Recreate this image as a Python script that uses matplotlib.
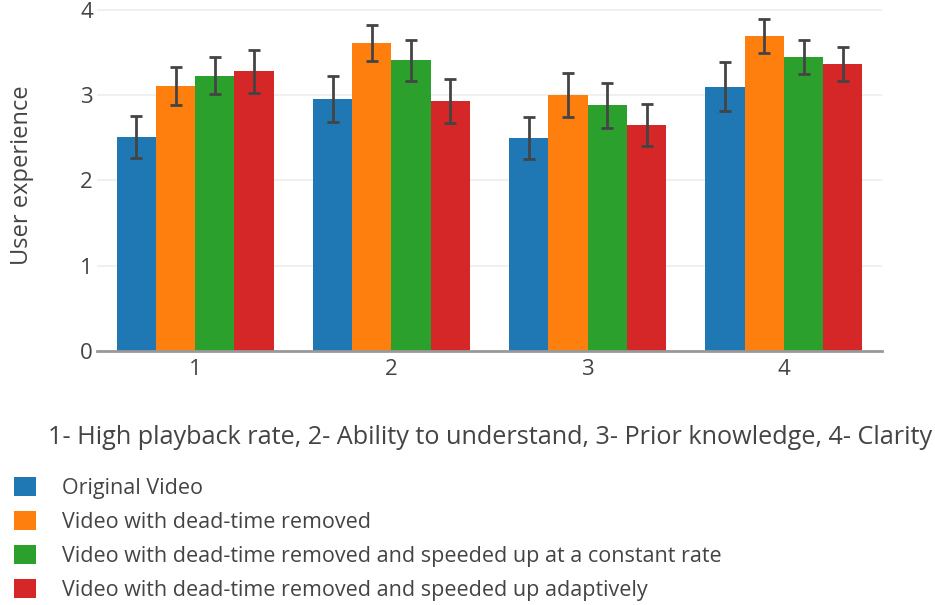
import numpy as np
import matplotlib
matplotlib.use("Agg")
import matplotlib.pyplot as plt
from matplotlib.patches import Patch

plt.rcParams['font.family'] = ['Open Sans', 'DejaVu Sans']

categories = ["1", "2", "3", "4"]
series_names = [
    "Original Video",
    "Video with dead-time removed",
    "Video with dead-time removed and speeded up at a constant rate",
    "Video with dead-time removed and speeded up adaptively",
]
colors = ["#1f77b4", "#ff7f0e", "#2ca02c", "#d62728"]

original = [2.51, 2.96, 2.50, 3.10]
deadtime_removed = [3.11, 3.61, 3.00, 3.69]
constant_rate = [3.23, 3.41, 2.88, 3.45]
adaptive = [3.28, 2.93, 2.65, 3.37]

original_err = [0.25, 0.27, 0.25, 0.29]
deadtime_err = [0.22, 0.21, 0.26, 0.20]
constant_err = [0.22, 0.24, 0.26, 0.20]
adaptive_err = [0.25, 0.26, 0.25, 0.20]

values = [original, deadtime_removed, constant_rate, adaptive]
errors = [original_err, deadtime_err, constant_err, adaptive_err]

text_col = "#444444"

fig = plt.figure(figsize=(9.35, 6.05), dpi=100)
ax = fig.add_axes([97 / 935, 1 - 351 / 605, 785 / 935, 351 / 605])

x = np.arange(len(categories))
width = 0.2
for i, (vals, errs) in enumerate(zip(values, errors)):
    ax.bar(x + (i - 1.5) * width, vals, width, color=colors[i], zorder=2,
           yerr=errs, error_kw=dict(ecolor=text_col, elinewidth=2,
                                    capsize=4.5, capthick=2, zorder=3))

ax.set_xlim(-0.5, 3.5)
ax.set_ylim(0, 4.117)
ax.set_yticks([0, 1, 2, 3, 4])
ax.set_xticks(x)
ax.set_xticklabels(categories)
ax.grid(axis='y', color="#eeeeee", linewidth=1.2, zorder=0)
ax.tick_params(length=0, labelsize=16, colors=text_col)
ax.tick_params(axis='y', pad=3)
ax.tick_params(axis='x', pad=6)
for s in ["top", "right", "left"]:
    ax.spines[s].set_visible(False)
ax.spines["bottom"].set_color("#999999")
ax.spines["bottom"].set_linewidth(2)
ax.spines["bottom"].set_zorder(4)

ax.set_ylabel("User experience", fontsize=17, color=text_col)
ax.yaxis.set_label_coords(-63 / 785, 0.5)
fig.text(490 / 935, 1 - 437 / 605,
         "1- High playback rate, 2- Ability to understand, 3- Prior knowledge, 4- Clarity",
         fontsize=18.2, color=text_col, ha='center', va='center')

handles = [Patch(facecolor=c, edgecolor='none') for c in colors]
fig.legend(handles, series_names, loc='upper left', bbox_to_anchor=(14 / 935, 1 - 477 / 605),
           frameon=False, fontsize=15.5, labelcolor=text_col, handlelength=1.0, handleheight=1.0,
           handletextpad=1.25, labelspacing=0.56, borderaxespad=0, borderpad=0)

fig.savefig("out.png", dpi=100)
